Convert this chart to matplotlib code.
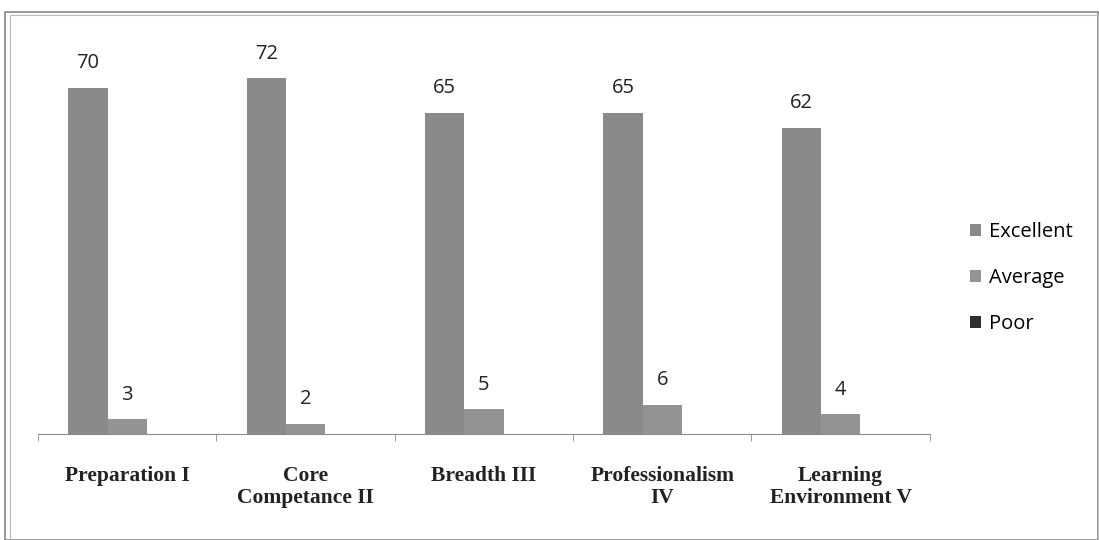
import numpy as np
import matplotlib.pyplot as plt
from matplotlib.patches import Rectangle

categories = ['Preparation I', 'Core\nCompetance II', 'Breadth III',
              'Professionalism\nIV', 'Learning\nEnvironment V']
excellent = [70, 72, 65, 65, 62]
average = [3, 2, 5, 6, 4]
poor = [0, 0, 0, 0, 0]

fig = plt.figure(figsize=(10.99, 5.4), dpi=100)
ax = fig.add_axes([0.0346, 0.196, 0.8115, 0.732])

x = np.arange(len(categories))
w = 0.22
ax.bar(x - w, excellent, w, color='#8a8a8a', edgecolor='none', label='Excellent')
ax.bar(x, average, w, color='#939393', edgecolor='none', label='Average')
ax.bar(x + w, poor, w, color='#2e2e2e', edgecolor='none', label='Poor')

lab_font = dict(family='Open Sans', fontsize=14.5, color='#222222')
for xi, v in zip(x - w, excellent):
    ax.text(xi, v + 3.0, str(v), ha='center', va='bottom', **lab_font)
for xi, v in zip(x, average):
    ax.text(xi, v + 3.0, str(v), ha='center', va='bottom', **lab_font)

ax.set_xlim(-0.5, len(categories) - 0.5)
ax.set_ylim(0, 80)
ax.set_yticks([])
for s in ['top', 'right', 'left']:
    ax.spines[s].set_visible(False)
ax.spines['bottom'].set_color('#8c8c8c')
ax.set_xticks(np.arange(len(categories) + 1) - 0.5, minor=True)
ax.tick_params(axis='x', which='minor', length=5, color='#8c8c8c', direction='out')
ax.tick_params(axis='x', which='major', length=0, pad=23)
ax.set_xticks(x)
ax.set_xticklabels(categories, fontfamily='Liberation Serif', fontweight='bold',
                   fontsize=15.5, color='#222222', linespacing=1.15)

ax.legend(loc='center left', bbox_to_anchor=(1.025, 0.395), frameon=False,
          prop={'family': 'Open Sans', 'size': 14.5}, handlelength=0.55,
          handleheight=0.55, labelspacing=1.3, handletextpad=0.4)

fig.patches.append(Rectangle((0.005, 0.0), 0.994, 0.978, transform=fig.transFigure,
                             fill=False, edgecolor='#888888', linewidth=1.2))
fig.patches.append(Rectangle((0.009, 0.0), 0.99, 0.972, transform=fig.transFigure,
                             fill=False, edgecolor='#bbbbbb', linewidth=0.8))

fig.savefig('out.png', dpi=100)
